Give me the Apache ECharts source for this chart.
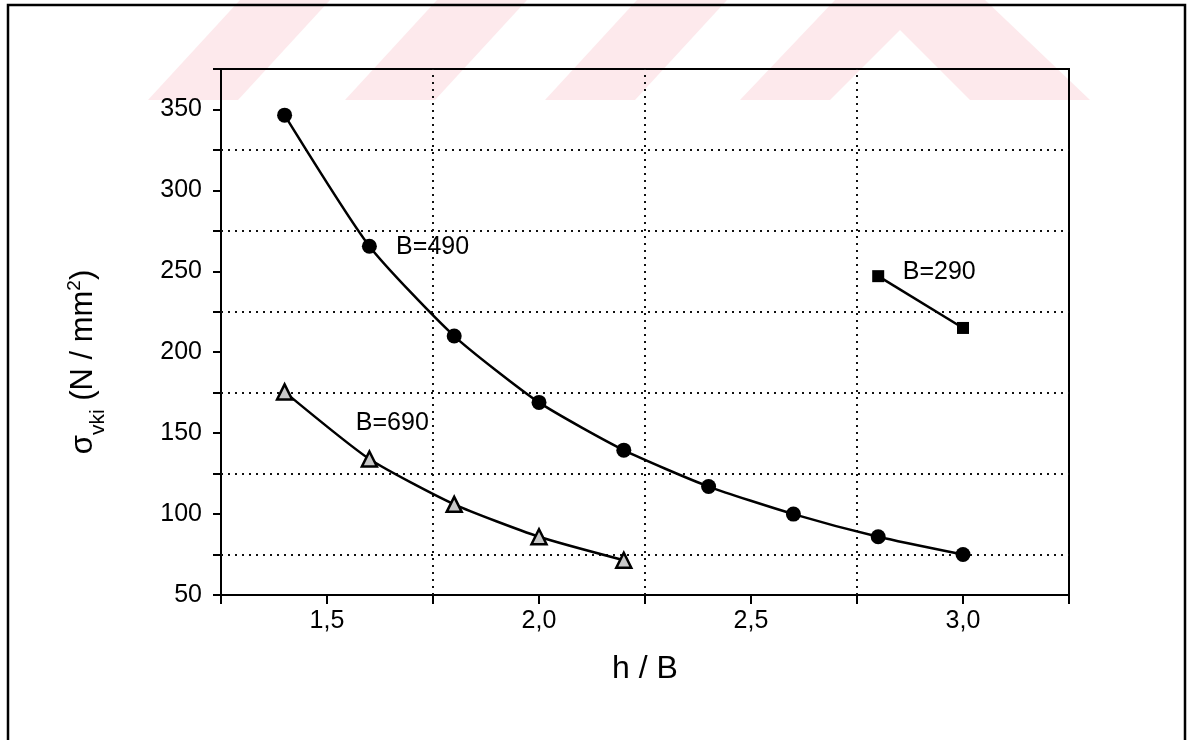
<!DOCTYPE html>
<html>
<head>
<meta charset="utf-8">
<title>sigma vki - h/B</title>
<script src="https://cdn.jsdelivr.net/npm/echarts@6/dist/echarts.min.js"></script>
<style>
  html, body { margin: 0; padding: 0; background: #fff; }
  #chart { width: 1188px; height: 740px; }
</style>
</head>
<body>
<div id="chart"></div>
<script>
// values
var hB490 = [1.4, 1.6, 1.8, 2.0, 2.2, 2.4, 2.6, 2.8, 3.0];
var sig490 = [346.5, 265.5, 210, 169, 139.5, 117, 100, 86, 75];
var hB690 = [1.4, 1.6, 1.8, 2.0, 2.2];
var sig690 = [175.5, 134, 106, 86, 71.5];
var hB290 = [2.8, 3.0];
var sig290 = [247, 215];

// curve names and where they are written
var curveNames = ['B=490', 'B=690', 'B=290'];
var nameX = [1.663, 1.568, 2.858];
var nameY = [265, 156, 249.5];

// dotted grid
var gridX = [1.75, 2.25, 2.75];
var gridY = [75, 125, 175, 225, 275, 325];

function pairs(xs, ys) {
  return xs.map(function (x, i) { return [x, ys[i]]; });
}

var chart = echarts.init(document.getElementById('chart'));

var dotted = { color: '#111', width: 2, type: [2, 5] };
var gridLines = [];
gridX.forEach(function (v) { gridLines.push({ xAxis: v }); });
gridY.forEach(function (v) { gridLines.push({ yAxis: v }); });

var pink = '#fde9ec';

chart.setOption({
  animation: false,
  backgroundColor: '#fff',
  textStyle: { fontFamily: 'Liberation Sans, Arial, sans-serif', color: '#000' },
  graphic: [
    // pink watermark at the top
    { type: 'polygon', z: -10, shape: { points: [[148, 100], [238, 100], [330, 0], [240, 0]] }, style: { fill: pink } },
    { type: 'polygon', z: -10, shape: { points: [[345, 100], [435, 100], [527, 0], [437, 0]] }, style: { fill: pink } },
    { type: 'polygon', z: -10, shape: { points: [[545, 100], [635, 100], [727, 0], [637, 0]] }, style: { fill: pink } },
    { type: 'polygon', z: -10, shape: { points: [[740, 100], [830, 100], [900, 30], [970, 100], [1090, 100], [985, 0], [835, 0]] }, style: { fill: pink } },
    // outer frame
    { type: 'rect', shape: { x: 8, y: 5, width: 1177, height: 800 }, style: { fill: 'none', stroke: '#000', lineWidth: 2.5 } }
  ],
  grid: {
    left: 221, top: 69, right: 119, bottom: 145,
    show: true, borderColor: '#000', borderWidth: 2, backgroundColor: 'transparent'
  },
  xAxis: {
    type: 'value',
    min: 1.25, max: 3.25, interval: 0.25,
    name: 'h / B',
    nameLocation: 'middle',
    nameGap: 58,
    nameTextStyle: { fontSize: 32, color: '#000' },
    axisLine: { lineStyle: { color: '#000', width: 2 } },
    axisTick: { length: 9, lineStyle: { color: '#000', width: 2 } },
    splitLine: { show: false },
    axisLabel: {
      fontSize: 25, color: '#000', margin: 14,
      formatter: function (v) {
        if (Math.abs(v * 2 - Math.round(v * 2)) > 1e-6) return '';
        return v.toFixed(1).replace('.', ',');
      }
    }
  },
  yAxis: {
    type: 'value',
    min: 50, max: 375, interval: 25,
    name: '{s|σ}{sub|vki}{s| (N / mm}{sup|2}{s|)}',
    nameLocation: 'middle',
    nameRotate: 90,
    nameGap: 118,
    nameTextStyle: {
      padding: [0, 60, 0, 0],
      rich: {
        s: { fontSize: 31, lineHeight: 40, color: '#000', verticalAlign: 'middle' },
        sub: { fontSize: 21, lineHeight: 21, color: '#000', verticalAlign: 'bottom', padding: [0, 0, -6, 0] },
        sup: { fontSize: 19, lineHeight: 19, color: '#000', verticalAlign: 'top', padding: [2, 0, 0, 0] }
      }
    },
    axisLine: { lineStyle: { color: '#000', width: 2 } },
    axisTick: { length: 8, lineStyle: { color: '#000', width: 2 } },
    splitLine: { show: false },
    axisLabel: {
      fontSize: 25, color: '#000', margin: 19,
      formatter: function (v) {
        return (v % 50 === 0 && v <= 350) ? String(v) : '';
      }
    }
  },
  series: [
    {
      name: 'grid',
      type: 'line',
      data: [],
      silent: true,
      markLine: {
        silent: true,
        symbol: 'none',
        label: { show: false },
        lineStyle: dotted,
        data: gridLines
      }
    },
    {
      name: curveNames[0],
      type: 'line',
      data: pairs(hB490, sig490),
      smooth: 0.2,
      symbol: 'circle',
      symbolSize: 15,
      lineStyle: { color: '#000', width: 2.5 },
      itemStyle: { color: '#000' },
      z: 5
    },
    {
      name: curveNames[1],
      type: 'line',
      data: pairs(hB690, sig690),
      smooth: 0.2,
      symbol: 'triangle',
      symbolSize: 15,
      lineStyle: { color: '#000', width: 2.5 },
      itemStyle: { color: '#c8c8c8', borderColor: '#000', borderWidth: 2.5 },
      z: 5
    },
    {
      name: curveNames[2],
      type: 'line',
      data: pairs(hB290, sig290),
      symbol: 'rect',
      symbolSize: 12,
      lineStyle: { color: '#000', width: 2.5 },
      itemStyle: { color: '#000' },
      z: 5
    },
    {
      name: 'names',
      type: 'scatter',
      symbolSize: 0,
      silent: true,
      itemStyle: { opacity: 1, color: '#000' },
      data: curveNames.map(function (n, i) { return { name: n, value: [nameX[i], nameY[i]] }; }),
      label: {
        show: true,
        position: 'right',
        distance: 0,
        fontSize: 25,
        color: '#000',
        formatter: '{b}'
      },
      z: 6
    }
  ]
});
</script>
</body>
</html>
